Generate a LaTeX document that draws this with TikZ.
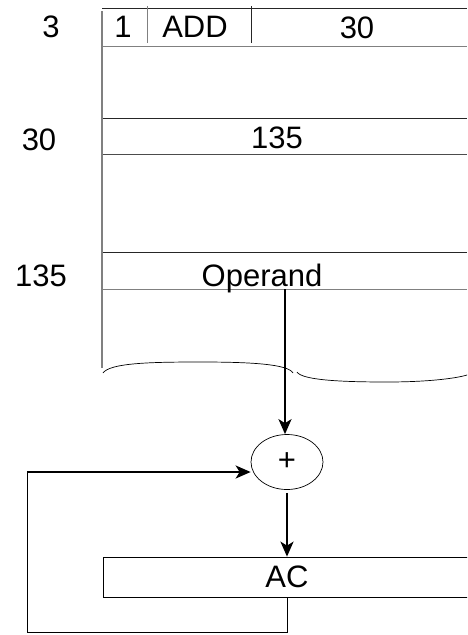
\documentclass[tikz,border=0pt]{standalone}
\usepackage{fontspec}
\setmainfont{Liberation Sans}
\usetikzlibrary{arrows.meta,calc,positioning,shapes.geometric}

\tikzset{
  lbl/.style={font=\fontsize{31}{33}\selectfont, inner sep=0pt, anchor=base},
  memline/.style={line width=0.8pt, black!85},
  memedge/.style={line width=1.4pt, gray},
  flow/.style={line width=2pt, -{Stealth[length=15pt,width=13pt,inset=4pt]}},
  fbline/.style={line width=0.9pt}
}

\begin{document}
\begin{tikzpicture}[x=1pt,y=-1pt]
	\useasboundingbox (0,0) rectangle (467,635);
	\clip (0,0) rectangle (467,635);
	% memory words
	\draw[memline] (102,8) -- (467,8);
	\draw[memline,gray] (102,46) -- (467,46);
	\draw[memline] (102,118) -- (467,118);
	\draw[memline,black!70] (102,154) -- (467,154);
	\draw[memline] (102,252) -- (467,252);
	\draw[memline,gray] (102,289) -- (467,289);
	\draw[memline,gray] (147,6) -- (147,43);
	\draw[memline] (251,6) -- (251,43);
	\draw[memedge] (102,11) -- (102,368);
	% cut-off edge
	\draw[line width=0.7pt] (103,373) .. controls (110,363) and (150,362) .. (200,362)
		.. controls (250,362) and (288,364) .. (293,373);
	\draw[line width=0.7pt] (297,372) .. controls (302,380) and (340,382) .. (387,382)
		.. controls (430,382) and (460,378) .. (470,374);
	% addresses
	\node[lbl] (addr3) at (51,37) {3};
	\node[lbl] (addr30) at (39,150) {30};
	\node[lbl] (addr135) at (41,286) {135};
	% contents
	\node[lbl] (indbit) at (123,37) {1};
	\node[lbl] (opcode) at (195,37) {ADD};
	\node[lbl] (field) at (357,38) {30};
	\node[lbl] (ptr) at (277,148) {135};
	\node[lbl] (operand) at (262,286) {Operand};
	% adder and accumulator
	\node[ellipse,draw,line width=0.7pt,minimum width=72pt,minimum height=55pt,inner sep=0pt,
		font=\fontsize{31}{33}\selectfont] (plus) at (287,462) {+};
	\node[draw,line width=0.7pt,minimum width=368pt,minimum height=40pt,inner sep=0pt,
		font=\fontsize{31}{33}\selectfont] (ac) at (287,577) {AC};
	\coordinate (opout) at (285,289);
	\coordinate (loop) at (27,632);
	\coordinate (entry) at (27,472);
	\draw[flow] (opout) -- (opout |- plus.north);
	\draw[flow] (plus.south) ++(0,3) -- (ac.north);
	\draw[fbline] (ac.south) |- (loop) -- (entry);
	\draw[flow] (entry) -- (entry -| plus.west);
\end{tikzpicture}
\end{document}
